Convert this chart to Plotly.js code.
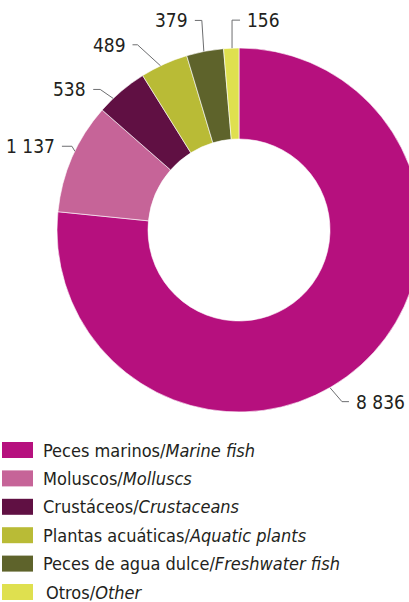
<!DOCTYPE html>
<html><head><meta charset="utf-8">
<script src="https://cdn.plot.ly/plotly-3.0.1.min.js"></script>
<style>html,body{margin:0;padding:0;overflow:hidden;background:#fff;}#chart{width:478px;height:602px;}</style>
</head><body><div id="chart"></div>
<script>
// ---- data ----
const categoriesEs = ["Peces marinos", "Moluscos", "Crustáceos", "Plantas acuáticas", "Peces de agua dulce", "Otros"];
const categoriesEn = ["Marine fish", "Molluscs", "Crustaceans", "Aquatic plants", "Freshwater fish", "Other"];
const values = [8836, 1137, 538, 489, 379, 156];
const valueLabels = ["8 836", "1 137", "538", "489", "379", "156"];

// ---- style ----
const colors = ["#B6107E", "#C66498", "#601043", "#B9BB36", "#5E632B", "#DFE04F"];
const W = 478, H = 602;
const font = "'DejaVu Sans Condensed', 'Liberation Sans Narrow', sans-serif";
const textColor = "#231F20";
// pie geometry (pixels)
const pieLeft = 57, pieTop = 48, pieSize = 364;
// leader-line style: where along the slice the line attaches, elbow offset, horizontal run
const leaderFrac = [0.544, 0.56, 0.30, 0.42, 0.47, 0.55];
const elbowDx = [12, -3, -13, -23, -2, 0];
const elbowDy = [14, -5, -9, -21, -31, -28];
const runLen = [7, -10, -7, -5, -7, 8];
const textGap = 5;

const px = x => x / W, py = y => 1 - y / H;
const labels = categoriesEs.map((c, i) => c + "/<i>" + categoriesEn[i] + "</i>");

const trace = {
  type: "pie",
  labels: labels,
  values: values,
  sort: false,
  direction: "clockwise",
  rotation: 0,
  hole: 0.5,
  marker: {colors: colors, line: {color: "#fff", width: 0.6}},
  textinfo: "none",
  hoverinfo: "none",
  domain: {x: [px(pieLeft), px(pieLeft + pieSize)], y: [py(pieTop + pieSize), py(pieTop)]},
  showlegend: false
};

const shapes = [], annotations = [];

// value labels with elbow leader lines, anchored on the slice angles computed from the data
const total = values.reduce((a, b) => a + b, 0);
const cx = pieLeft + pieSize / 2, cy = pieTop + pieSize / 2, R = pieSize / 2;
let cum = 0;
values.forEach((v, i) => {
  const a0 = cum / total * 2 * Math.PI, a1 = (cum + v) / total * 2 * Math.PI;
  cum += v;
  const th = a0 + leaderFrac[i] * (a1 - a0);
  const P = [cx + R * Math.sin(th), cy - R * Math.cos(th)];
  const E = [P[0] + elbowDx[i], P[1] + elbowDy[i]];
  const F = [E[0] + runLen[i], E[1]];
  shapes.push({type: "path", xref: "paper", yref: "paper",
    path: `M${px(P[0])},${py(P[1])} L${px(E[0])},${py(E[1])} L${px(F[0])},${py(F[1])}`,
    line: {color: "#6D6E70", width: 1}});
  const right = runLen[i] > 0;
  annotations.push({xref: "paper", yref: "paper",
    x: px(F[0] + (right ? textGap : -textGap)), y: py(F[1]),
    xanchor: right ? "left" : "right", yanchor: "middle", showarrow: false,
    text: valueLabels[i], font: {family: font, size: 19, color: textColor}});
});

// legend
const rowY0 = 450, rowStep = 28.4;
labels.forEach((lab, i) => {
  const yc = rowY0 + i * rowStep;
  shapes.push({type: "rect", xref: "paper", yref: "paper",
    x0: px(2), x1: px(33), y0: py(yc + 8), y1: py(yc - 8),
    fillcolor: colors[i], line: {width: 0}});
  annotations.push({xref: "paper", yref: "paper", x: px(i === 5 ? 44 : 41), y: py(yc),
    xanchor: "left", yanchor: "middle", showarrow: false, text: lab,
    font: {family: font, size: 18, color: textColor}});
});

const layout = {
  width: W, height: H,
  margin: {l: 0, r: 0, t: 0, b: 0},
  paper_bgcolor: "#fff",
  showlegend: false,
  shapes: shapes,
  annotations: annotations
};
Plotly.newPlot("chart", [trace], layout, {staticPlot: true, displayModeBar: false});
</script></body></html>
